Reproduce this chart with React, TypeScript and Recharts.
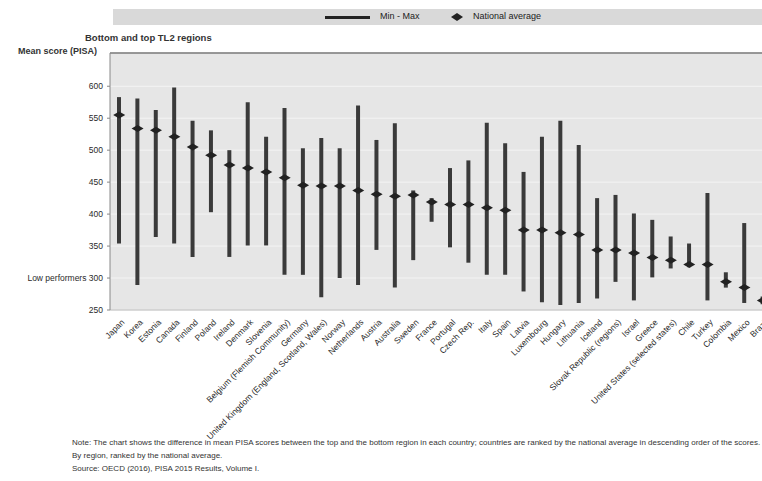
import { Bar, CartesianGrid, ComposedChart, Line, ReferenceLine, XAxis, YAxis } from "recharts";

const countries = [
  "Japan", "Korea", "Estonia", "Canada", "Finland", "Poland", "Ireland", "Denmark",
  "Slovenia", "Belgium (Flemish Community)", "Germany", "United Kingdom (England, Scotland, Wales)",
  "Norway", "Netherlands", "Austria", "Australia", "Sweden", "France", "Portugal", "Czech Rep.",
  "Italy", "Spain", "Latvia", "Luxembourg", "Hungary", "Lithuania", "Iceland",
  "Slovak Republic (regions)", "Israel", "Greece", "United States (selected states)", "Chile",
  "Turkey", "Colombia", "Mexico", "Brazil",
];

// bottom region, top region, national average (PISA mean score)
const minScores = [354, 289, 364, 354, 333, 403, 333, 351, 351, 305, 305, 270, 300, 289, 344, 285, 328, 388, 348, 324, 305, 305, 279, 262, 258, 261, 268, 294, 265, 301, 315, 317, 265, 285, 261, 259];
const maxScores = [583, 581, 563, 598, 546, 531, 500, 575, 521, 566, 503, 519, 503, 570, 516, 542, 437, 425, 472, 484, 543, 511, 466, 521, 546, 508, 425, 430, 401, 391, 365, 354, 433, 309, 386, 271];
const nationalAvg = [555, 534, 531, 521, 505, 492, 477, 472, 466, 457, 445, 444, 444, 437, 431, 428, 430, 419, 415, 415, 410, 406, 375, 375, 371, 368, 344, 344, 339, 332, 328, 321, 321, 294, 285, 265];

const yTicks = [250, 300, 350, 400, 450, 500, 550, 600];

const data = countries.map((name, i) => ({
  name,
  range: [minScores[i], maxScores[i]],
  avg: nationalAvg[i],
}));

const font = '"Liberation Sans", Arial, sans-serif';

const XTick = (props: any) => {
  const { x, y, payload } = props;
  return (
    <g transform={`translate(${x + 3},${y + 2})`}>
      <text transform="rotate(-45)" textAnchor="end" fontSize={8.5} fill="#2a2a2a" dy={4} fontFamily={font}>
        {payload.value}
      </text>
    </g>
  );
};

const YTick = (props: any) => {
  const { x, y, payload } = props;
  const label = payload.value === 300 ? "Low performers 300" : String(payload.value);
  return (
    <text x={x - 2} y={y} dy={3} textAnchor="end" fontSize={8.5} fill="#2a2a2a" fontFamily={font}>
      {label}
    </text>
  );
};

const Diamond = (props: any) => {
  const { cx, cy, index } = props;
  if (cx == null || cy == null) return <g key={`d-${index}`} />;
  return (
    <polygon
      key={`d-${index}`}
      points={`${cx - 6},${cy} ${cx},${cy - 3.5} ${cx + 6},${cy} ${cx},${cy + 3.5}`}
      fill="#222"
    />
  );
};

export default function App() {
  return (
    <div style={{ position: "absolute", left: 0, top: 0, width: 762, height: 481, overflow: "hidden", background: "#fff", fontFamily: font }}>
      {/* legend band */}
      <div style={{ position: "absolute", left: 113, top: 9, width: 660, height: 16, background: "#d9d9d9" }} />
      <div style={{ position: "absolute", left: 325, top: 16, width: 45, height: 3, background: "#222" }} />
      <div style={{ position: "absolute", left: 380, top: 11, fontSize: 9, color: "#222" }}>Min - Max</div>
      <svg style={{ position: "absolute", left: 450, top: 12 }} width={14} height={10}>
        <polygon points="1,5 7,1 13,5 7,9" fill="#222" />
      </svg>
      <div style={{ position: "absolute", left: 473, top: 11, fontSize: 9, color: "#222" }}>National average</div>

      <div style={{ position: "absolute", left: 85, top: 32, fontSize: 9.5, fontWeight: "bold", color: "#333" }}>
        Bottom and top TL2 regions
      </div>
      <div style={{ position: "absolute", left: 18, top: 46, fontSize: 9, fontWeight: "bold", color: "#333" }}>
        Mean score (PISA)
      </div>

      <div style={{ position: "absolute", left: 0, top: 0 }}>
        <ComposedChart width={782} height={440} data={data} margin={{ top: 53, right: 10, left: 10, bottom: 10 }}>
          <CartesianGrid vertical={false} fill="#e6e6e6" stroke="#f4f4f4" />
          <XAxis
            dataKey="name"
            interval={0}
            height={120}
            tick={<XTick />}
            tickLine={false}
            axisLine={{ stroke: "#bbb" }}
          />
          <YAxis
            type="number"
            domain={[250, 652]}
            ticks={yTicks}
            width={100}
            tick={<YTick />}
            tickLine={{ stroke: "#888" }}
            tickSize={3}
            axisLine={{ stroke: "#888" }}
          />
          <ReferenceLine y={652} stroke="#777" strokeWidth={1.5} />
          <Bar dataKey="range" barSize={4} fill="#3a3a3a" isAnimationActive={false} />
          <Line dataKey="avg" stroke="none" dot={Diamond} activeDot={false} isAnimationActive={false} />
        </ComposedChart>
      </div>

      <div style={{ position: "absolute", left: 72, top: 436, fontSize: 8, lineHeight: "13px", color: "#333", whiteSpace: "nowrap" }}>
        <div>Note: The chart shows the difference in mean PISA scores between the top and the bottom region in each country; countries are ranked by the national average in descending order of the scores.</div>
        <div>By region, ranked by the national average.</div>
        <div>Source: OECD (2016), PISA 2015 Results, Volume I.</div>
      </div>
    </div>
  );
}
